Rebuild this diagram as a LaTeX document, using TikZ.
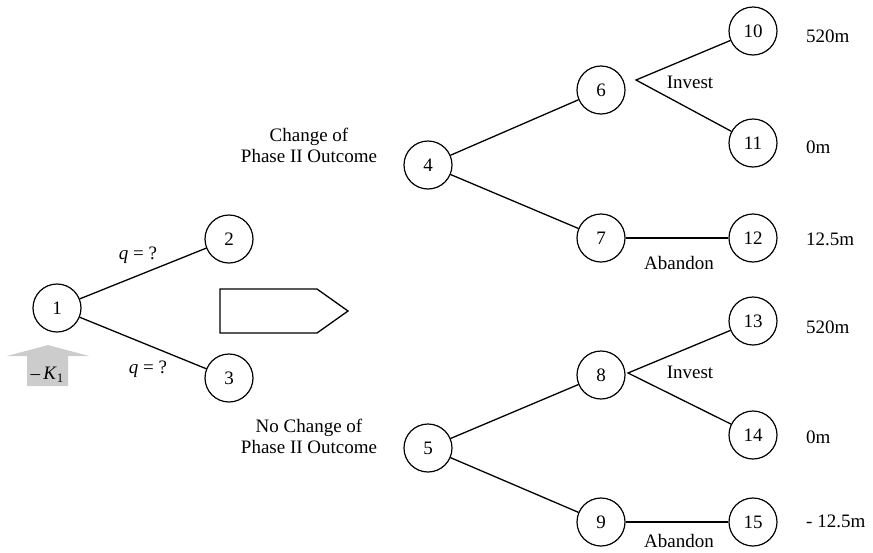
\documentclass[tikz,border=0pt]{standalone}
\usepackage{fontspec}
\setmainfont{Liberation Serif}
\begin{document}
\begin{tikzpicture}[x=1pt,y=-1pt,
  st/.style={circle,draw,line width=1.2pt,minimum size=48pt,inner sep=0pt,font=\fontsize{19}{21}\selectfont},
  lbl/.style={font=\fontsize{19}{21}\selectfont,inner sep=0pt},
  br/.style={line width=1.3pt}]
\useasboundingbox (0,0) rectangle (873,552);
% nodes
\node[st] (n1) at (57,308) {1};
\node[st] (n2) at (229,239) {2};
\node[st] (n3) at (229,378) {3};
\node[st] (n4) at (428,165) {4};
\node[st] (n5) at (428,448) {5};
\node[st] (n6) at (601,90) {6};
\node[st] (n7) at (601,238) {7};
\node[st] (n8) at (601,375) {8};
\node[st] (n9) at (601,522) {9};
\node[st] (n10) at (753,31) {10};
\node[st] (n11) at (753,143) {11};
\node[st] (n12) at (753,238) {12};
\node[st] (n13) at (753,321) {13};
\node[st] (n14) at (753,435) {14};
\node[st] (n15) at (753,522) {15};
% branches
\draw[br] (n1) -- (n2);
\draw[br] (n1) -- (n3);
\draw[br] (n4) -- (n6);
\draw[br] (n4) -- (n7);
\draw[br] (n5) -- (n8);
\draw[br] (n5) -- (n9);
\coordinate (d6) at (636,80);
\draw[br] (n10) -- (d6) -- (n11);
\coordinate (d8) at (628,373);
\draw[br] (n13) -- (d8) -- (n14);
\draw[br] (n7) -- (n12);
\draw[br] (n9) -- (n15);
% labels
\node[lbl,anchor=base] (q1) at (138,259) {\textit{q} = ?};
\node[lbl,anchor=base] (q2) at (148,373) {\textit{q} = ?};
\node[lbl,align=center] (c1) at (309,145) {Change of\\Phase II Outcome};
\node[lbl,align=center] (c2) at (309,436) {No Change of\\Phase II Outcome};
\node[lbl,anchor=base] (i1) at (690,88) {Invest};
\node[lbl,anchor=base] (i2) at (690,378) {Invest};
\node[lbl,anchor=base] (a1) at (679,269) {Abandon};
\node[lbl,anchor=base] (a2) at (679,547) {Abandon};
\node[lbl,anchor=base west] (v10) at (806,42) {520m};
\node[lbl,anchor=base west] (v11) at (806,153) {0m};
\node[lbl,anchor=base west] (v12) at (806,245) {12.5m};
\node[lbl,anchor=base west] (v13) at (806,333) {520m};
\node[lbl,anchor=base west] (v14) at (806,443) {0m};
\node[lbl,anchor=base west] (v15) at (806,527) {- 12.5m};
% pentagon arrow
\draw[line width=1.3pt] (220,289) -- (317,289) -- (348,311) -- (317,333) -- (220,333) -- cycle;
% gray cost arrow
\fill[gray!40] (27,386) -- (27,356) -- (7,356) -- (48,345) -- (89,356) -- (68,356) -- (68,386) -- cycle;
\node[lbl,anchor=base] (k1) at (47,379) {–\,\textit{K}{\fontsize{13}{14}\selectfont\raisebox{-3pt}{1}}};
\end{tikzpicture}
\end{document}
